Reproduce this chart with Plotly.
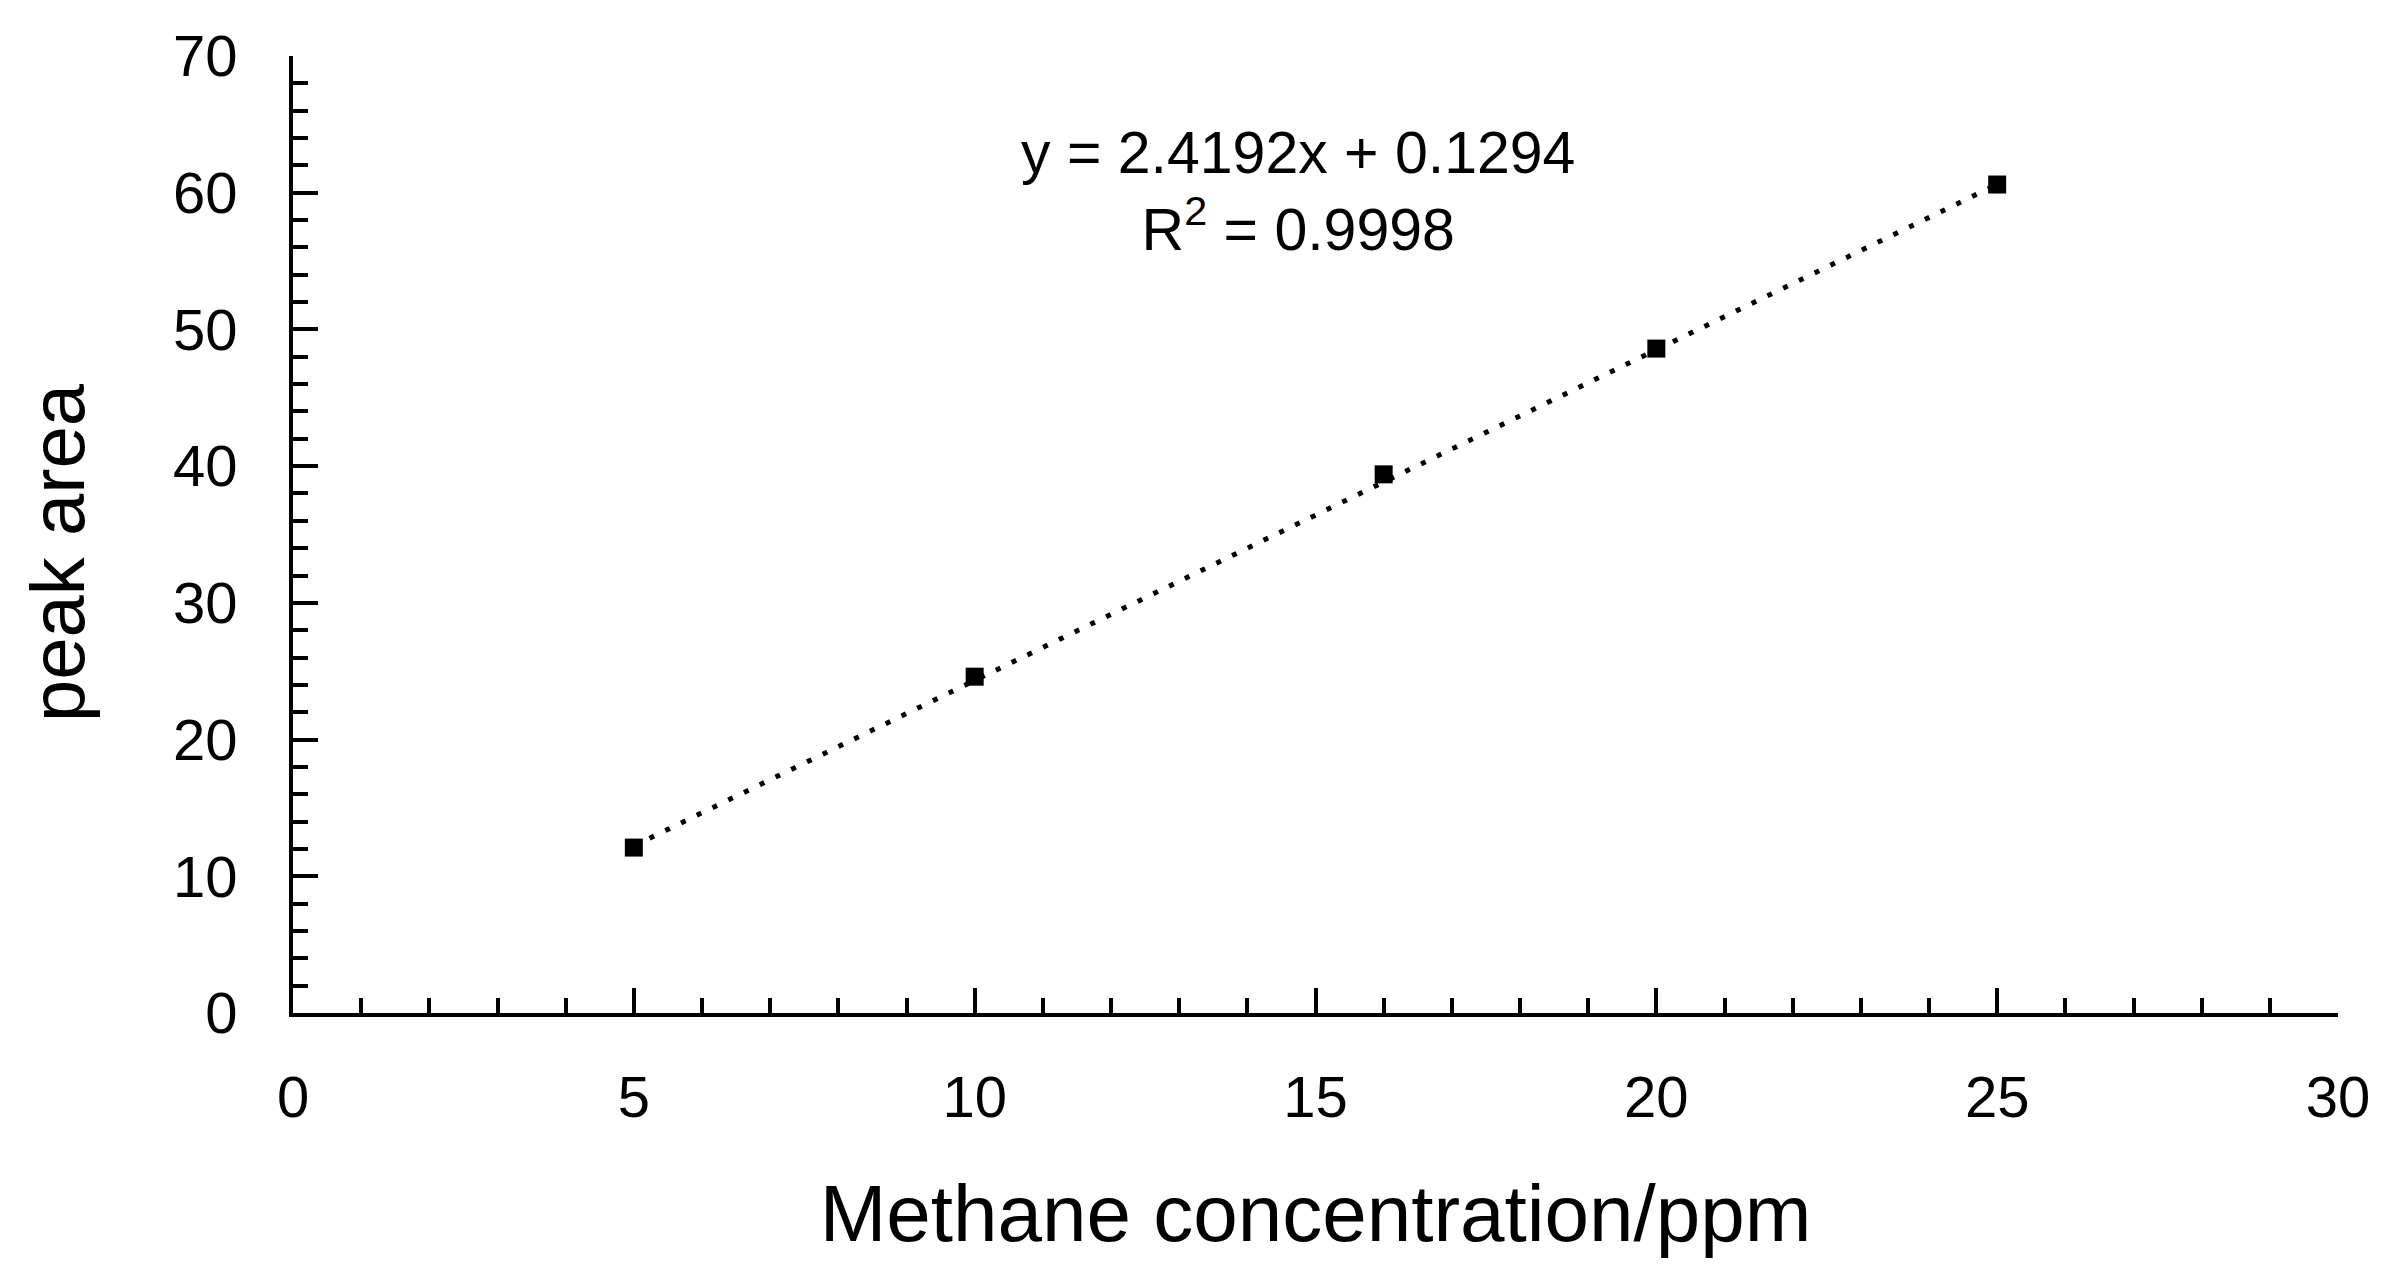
import numpy as np
import plotly.graph_objects as go

# Data
concentration_ppm = [5, 10, 16, 20, 25]
peak_area = [12.1, 24.6, 39.4, 48.6, 60.6]

# Trendline coefficients shown on the chart
slope = 2.4192
intercept = 0.1294
r_squared = 0.9998

x_ticks = [0, 5, 10, 15, 20, 25, 30]
y_ticks = [0, 10, 20, 30, 40, 50, 60, 70]

FONT = "Liberation Sans, Arial, sans-serif"

# Linear trendline drawn over the data span
x_fit = np.array([min(concentration_ppm), max(concentration_ppm)], dtype=float)
y_fit = slope * x_fit + intercept

fig = go.Figure()
fig.add_trace(go.Scatter(
    x=x_fit, y=y_fit, mode="lines",
    line=dict(color="black", width=5, dash="5px,12.5px"),
    showlegend=False, hoverinfo="skip",
))
fig.add_trace(go.Scatter(
    x=concentration_ppm, y=peak_area, mode="markers",
    marker=dict(symbol="square", size=18, color="black"),
    showlegend=False,
))

fig.add_annotation(
    x=14.74, y=60.1, xref="x", yref="y",
    text=f"y = {slope}x + {intercept}<br>R<sup>2</sup> = {r_squared}",
    showarrow=False, align="center", xanchor="center", yanchor="middle",
    font=dict(family=FONT, size=59, color="black"),
)

# y-axis title placed as an annotation to match the reference position
fig.add_annotation(
    x=0, y=0.4807, xref="paper", yref="paper",
    xanchor="center", yanchor="middle", xshift=-235,
    text="peak area", textangle=-90, showarrow=False,
    font=dict(family=FONT, size=76, color="black"),
)

axis_common = dict(
    showline=True, linecolor="black", linewidth=4,
    ticks="inside", ticklen=25, tickwidth=4, tickcolor="black",
    showgrid=False, zeroline=False,
    tickfont=dict(family=FONT, size=58, color="black"),
)

fig.update_xaxes(
    range=[0, 30], tickvals=x_ticks, ticktext=[str(v) for v in x_ticks],
    minor=dict(ticks="inside", ticklen=15, tickwidth=4, tickcolor="black", dtick=1, showgrid=False),
    title=dict(text="Methane concentration/ppm", font=dict(family=FONT, size=80, color="black"), standoff=58),
    ticklabelstandoff=30,
    **axis_common,
)
fig.update_yaxes(
    range=[0, 70], tickvals=y_ticks, ticktext=[str(v) for v in y_ticks],
    minor=dict(ticks="inside", ticklen=15, tickwidth=4, tickcolor="black", dtick=2, showgrid=False),
    ticklabelstandoff=40,
    **axis_common,
)

fig.update_layout(
    width=2378, height=1265,
    margin=dict(l=285, r=48, t=48, b=260),
    paper_bgcolor="white", plot_bgcolor="white",
)

fig.write_html("out.html")
